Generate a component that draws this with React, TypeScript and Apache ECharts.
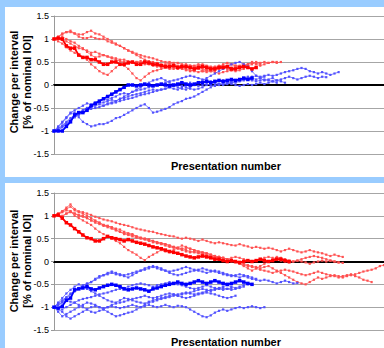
import React, { useEffect, useRef } from "react";
import * as echarts from "echarts";

// Y-axis ticks (both panels)
const yTicks = [-1.5, -1, -0.5, 0, 0.5, 1, 1.5];
const xTitle = "Presentation number";
const yTitle1 = "Change per interval";
const yTitle2 = "[% of nominal IOI]";

// ---------- Top panel ----------
const topRedBold = [1.0,1.02,1.0,0.85,0.8,0.8,0.65,0.6,0.6,0.55,0.55,0.5,0.45,0.45,0.5,0.5,0.45,0.45,0.48,0.5,0.45,0.45,0.5,0.48,0.45,0.45,0.42,0.4,0.4,0.42,0.38,0.4,0.4,0.38,0.35,0.38,0.4,0.38,0.35,0.35,0.38,0.38,0.4,0.35,0.35,0.38,0.4,0.38,0.35,0.38];
const topRed2 = [1.0,1.05,1.1,1.15,1.15,1.12,1.1,1.1,1.15,1.18,1.12,1.1,1.05,1.0,0.95,0.9,0.85,0.8,0.75,0.72,0.68,0.65,0.62,0.6,0.58,0.55,0.52,0.5,0.5,0.48,0.48,0.45,0.45,0.42,0.42,0.45,0.42,0.4,0.38,0.4,0.42,0.4,0.42,0.45,0.42,0.4,0.42,0.45,0.48,0.45,0.42,0.45,0.48,0.5,0.48,0.5];
const topRed3 = [1.0,1.05,1.12,1.15,1.18,1.12,1.05,1.02,1.02,1.05,1.02,1.0,1.0,0.95,0.92,0.88,0.85,0.8,0.75,0.7,0.65,0.6,0.55,0.52,0.5,0.48,0.45,0.45,0.48,0.45,0.42,0.42,0.4,0.38,0.4,0.42,0.45,0.42,0.4,0.38,0.4,0.45,0.48,0.45,0.42,0.4,0.42,0.45,0.5,0.48,0.45];
const topRed4 = [1.0,0.95,0.9,0.82,0.75,0.7,0.65,0.6,0.55,0.45,0.38,0.3,0.25,0.22,0.3,0.38,0.45,0.42,0.35,0.25,0.15,0.1,0.18,0.25,0.3,0.32,0.35,0.38,0.4,0.38,0.35,0.38,0.4,0.42,0.4,0.38,0.35,0.32,0.35,0.38,0.4,0.42,0.4,0.38,0.4,0.42,0.45];
const topRed5 = [1.0,1.0,0.98,0.95,0.9,0.85,0.8,0.78,0.75,0.7,0.72,0.68,0.65,0.62,0.6,0.58,0.55,0.55,0.52,0.5,0.5,0.48,0.45,0.45,0.42,0.4,0.42,0.38,0.35,0.35,0.38,0.35,0.32,0.3,0.32,0.35,0.3,0.28,0.3,0.32,0.35,0.38,0.35,0.32,0.3,0.32,0.35];
const topRed6 = [1.0,1.02,1.05,1.0,0.95,0.92,0.85,0.8,0.72,0.65,0.6,0.62,0.65,0.62,0.58,0.55,0.52,0.5,0.5,0.48,0.5,0.52,0.5,0.48,0.45,0.42,0.4,0.42,0.45,0.42,0.4,0.38,0.35,0.32,0.3,0.28,0.3,0.32,0.3,0.28,0.25,0.28,0.3,0.32,0.35,0.38,0.4,0.42,0.45,0.5,0.48,0.5,0.48,0.5,0.5];

const topBlueBold = [-1.0,-1.0,-1.0,-0.9,-0.8,-0.65,-0.6,-0.6,-0.55,-0.45,-0.4,-0.35,-0.3,-0.25,-0.2,-0.15,-0.1,-0.05,0.0,0.0,-0.02,0.0,0.02,0.0,-0.02,0.0,0.02,0.0,-0.02,0.0,0.02,0.05,0.02,0.0,0.02,0.05,0.05,0.08,0.05,0.08,0.1,0.08,0.1,0.12,0.1,0.12,0.15,0.12,0.15];
const topBlue2 = [-1.0,-0.92,-0.82,-0.72,-0.62,-0.6,-0.7,-0.8,-0.85,-0.9,-0.88,-0.85,-0.85,-0.82,-0.78,-0.72,-0.7,-0.65,-0.6,-0.55,-0.5,-0.45,-0.42,-0.5,-0.6,-0.58,-0.55,-0.52,-0.48,-0.42,-0.38,-0.35,-0.3,-0.28,-0.25,-0.2,-0.15,-0.1,-0.05,0.0,0.02,0.05,0.05,0.08,0.1,0.12,0.15,0.18,0.15,0.12,0.15,0.18];
const topBlue3 = [-1.0,-0.9,-0.8,-0.7,-0.6,-0.55,-0.5,-0.45,-0.4,-0.42,-0.38,-0.35,-0.3,-0.32,-0.28,-0.25,-0.2,-0.18,-0.2,-0.15,-0.12,-0.1,-0.08,-0.05,-0.02,0.0,0.02,0.05,0.08,0.1,0.12,0.15,0.18,0.2,0.18,0.15,0.12,0.1,0.08,0.05,0.02,0.0,0.02,0.05,0.08,0.1,0.12,0.15,0.18,0.2,0.18,0.2,0.22,0.2,0.22,0.25,0.28,0.3,0.32,0.35,0.37,0.35,0.3,0.28,0.25,0.28,0.25,0.22,0.25,0.28];
const topBlue4 = [-1.0,-0.95,-0.88,-0.8,-0.72,-0.65,-0.6,-0.55,-0.5,-0.48,-0.45,-0.42,-0.45,-0.4,-0.38,-0.35,-0.3,-0.25,-0.2,-0.15,-0.1,-0.05,0.0,0.05,0.1,0.12,0.15,0.1,0.05,0.0,-0.05,-0.08,-0.1,-0.05,0.0,0.05,0.1,0.15,0.2,0.25,0.3,0.35,0.4,0.45,0.48,0.5,0.45,0.4,0.3,0.2,0.15,0.1,0.12,0.15,0.1,0.08,0.05];
const topBlue5 = [-1.0,-0.95,-0.9,-0.82,-0.75,-0.7,-0.65,-0.6,-0.55,-0.52,-0.5,-0.48,-0.45,-0.42,-0.4,-0.38,-0.35,-0.32,-0.3,-0.28,-0.25,-0.22,-0.2,-0.18,-0.15,-0.12,-0.1,-0.08,-0.05,-0.02,0.0,-0.02,-0.05,-0.08,-0.1,-0.08,-0.05,0.0,0.02,0.05,0.08,0.1,0.08,0.05,0.05,0.08,0.1,0.12,0.1,0.08,0.1,0.12,0.1,0.08,0.1,0.12,0.15,0.18,0.15,0.12,0.15,0.18,0.2,0.18,0.15,0.18,0.17];
const topBlue6 = [-1.0,-0.98,-0.92,-0.85,-0.78,-0.7,-0.62,-0.55,-0.5,-0.45,-0.42,-0.4,-0.38,-0.35,-0.32,-0.35,-0.3,-0.28,-0.25,-0.22,-0.2,-0.18,-0.15,-0.12,-0.1,-0.12,-0.1,-0.08,-0.05,-0.08,-0.1,-0.05,0.0,0.05,0.0,-0.02,0.0,0.02,0.0,-0.02,0.0,0.02,0.05,0.02,0.0,-0.02,0.0,0.02,0.0,0.02,0.05,0.02,0.05,0.08,0.05];

// ---------- Bottom panel ----------
const botRedBold = [1.0,1.02,0.95,0.85,0.8,0.72,0.65,0.58,0.52,0.5,0.45,0.45,0.5,0.55,0.52,0.5,0.48,0.45,0.48,0.45,0.42,0.4,0.38,0.35,0.32,0.3,0.28,0.25,0.22,0.2,0.18,0.15,0.12,0.1,0.08,0.1,0.12,0.1,0.08,0.05,0.05,0.02,0.0,0.02,0.0,-0.02,0.0,0.02,0.0,0.02,0.05,0.02,0.0,0.02,0.05,0.05,0.02,0.0];
const botRed2 = [1.0,1.05,1.1,1.18,1.25,1.15,1.1,1.08,1.05,1.02,0.98,0.95,0.92,0.9,0.88,0.85,0.82,0.8,0.78,0.75,0.72,0.7,0.68,0.66,0.65,0.62,0.6,0.58,0.56,0.55,0.52,0.5,0.52,0.5,0.48,0.45,0.48,0.45,0.42,0.4,0.42,0.4,0.38,0.36,0.35,0.38,0.35,0.33,0.3,0.32,0.3,0.28,0.3,0.28,0.25,0.22,0.25,0.28,0.25,0.22,0.2,0.22,0.25,0.22,0.2,0.18,0.15,0.12,0.15,0.12,0.1];
const botRed3 = [1.0,1.05,1.1,1.15,1.2,1.12,1.08,1.05,1.0,0.95,0.9,0.85,0.8,0.78,0.75,0.7,0.65,0.62,0.6,0.58,0.55,0.52,0.5,0.48,0.45,0.42,0.4,0.38,0.35,0.32,0.3,0.28,0.3,0.28,0.25,0.22,0.2,0.18,0.15,0.12,0.1,0.08,0.05,0.02,0.0,-0.02,-0.05,-0.08,-0.1,-0.12,-0.15,-0.12,-0.1,-0.15,-0.2,-0.25,-0.3,-0.35,-0.4,-0.45,-0.48,-0.5,-0.45,-0.4,-0.35,-0.38,-0.35,-0.32,-0.3,-0.32,-0.35,-0.32,-0.3,-0.28,-0.25,-0.22,-0.2,-0.18,-0.15,-0.1,-0.08];
const botRed4 = [1.0,1.02,1.08,1.12,1.1,1.05,1.02,1.0,0.95,0.9,0.85,0.82,0.78,0.75,0.72,0.68,0.65,0.6,0.58,0.55,0.52,0.5,0.48,0.45,0.42,0.4,0.38,0.35,0.32,0.3,0.28,0.25,0.22,0.2,0.22,0.2,0.18,0.15,0.12,0.1,0.08,0.05,0.02,0.0,-0.02,-0.05,-0.08,-0.1,-0.12,-0.15,-0.18,-0.2,-0.22,-0.25,-0.22,-0.2,-0.18,-0.2,-0.22,-0.25,-0.28,-0.3,-0.28,-0.25,-0.22,-0.25,-0.28,-0.3,-0.32,-0.35,-0.32,-0.3,-0.28,-0.32,-0.35,-0.4,-0.42,-0.45];
const botRed5 = [1.0,1.0,0.98,1.05,1.1,1.0,0.95,0.9,0.85,0.8,0.72,0.65,0.6,0.55,0.5,0.45,0.4,0.32,0.25,0.2,0.15,0.08,0.03,0.1,0.15,0.2,0.25,0.22,0.2,0.25,0.3,0.35,0.32,0.28,0.25,0.22,0.2,0.18,0.15,0.12,0.1,0.08,0.05,0.02,0.0,-0.05,-0.1,-0.15,-0.2,-0.15,-0.1,-0.05,0.0,0.05,0.1,0.08,0.05,0.02,0.0,0.02,0.05,0.08,0.1,0.12,0.1,0.08,0.05,0.02,0.0,-0.02,-0.03];
const botRed6 = [1.0,1.02,1.0,1.05,1.08,1.05,1.0,0.98,0.95,0.9,0.88,0.85,0.8,0.78,0.75,0.72,0.7,0.65,0.62,0.6,0.55,0.52,0.5,0.48,0.45,0.42,0.4,0.38,0.35,0.32,0.3,0.28,0.25,0.22,0.2,0.18,0.15,0.12,0.1,0.08,0.1,0.08,0.05,0.08,0.1,0.08,0.05,0.02,0.0,0.02,0.05,0.08,0.1,0.08,0.05,0.02,0.0,-0.02,0.0,0.02,0.0,-0.02,-0.05,-0.02,0.0,0.02,0.0,0.02,0.0,-0.02];

const botBlueBold = [-1.0,-1.02,-0.98,-0.85,-0.8,-0.62,-0.6,-0.58,-0.55,-0.6,-0.62,-0.58,-0.55,-0.52,-0.5,-0.52,-0.55,-0.6,-0.62,-0.6,-0.58,-0.6,-0.62,-0.65,-0.6,-0.58,-0.55,-0.52,-0.5,-0.48,-0.45,-0.48,-0.5,-0.48,-0.45,-0.42,-0.45,-0.48,-0.45,-0.42,-0.45,-0.48,-0.5,-0.48,-0.45,-0.42,-0.45,-0.48,-0.5];
const botBlue2 = [-1.0,-0.95,-0.88,-0.8,-0.72,-0.65,-0.58,-0.52,-0.48,-0.45,-0.38,-0.32,-0.3,-0.25,-0.22,-0.25,-0.28,-0.3,-0.28,-0.25,-0.22,-0.2,-0.18,-0.15,-0.12,-0.15,-0.18,-0.2,-0.22,-0.2,-0.18,-0.15,-0.12,-0.15,-0.18,-0.2,-0.22,-0.25,-0.22,-0.2,-0.22,-0.25,-0.28,-0.3,-0.32,-0.35,-0.32,-0.35,-0.38,-0.4,-0.42,-0.4,-0.42,-0.45,-0.48,-0.45,-0.42,-0.45,-0.48,-0.47];
const botBlue3 = [-1.0,-0.92,-0.85,-0.78,-0.7,-0.65,-0.6,-0.55,-0.5,-0.45,-0.4,-0.35,-0.3,-0.28,-0.25,-0.28,-0.3,-0.32,-0.35,-0.3,-0.25,-0.2,-0.15,-0.12,-0.1,-0.12,-0.15,-0.2,-0.25,-0.28,-0.3,-0.28,-0.25,-0.22,-0.2,-0.18,-0.15,-0.18,-0.2,-0.22,-0.25,-0.28,-0.3,-0.32,-0.3,-0.28,-0.3,-0.32,-0.35,-0.38];
const botBlue4 = [-1.0,-1.05,-1.1,-1.2,-1.25,-1.2,-1.15,-1.1,-1.05,-1.0,-0.98,-1.0,-1.02,-1.0,-0.98,-1.0,-1.02,-1.0,-0.98,-0.95,-0.98,-1.0,-0.98,-0.95,-0.98,-1.0,-0.98,-0.95,-0.98,-1.0,-0.97,-0.98,-1.0,-1.05,-1.1,-1.15,-1.2,-1.22,-1.18,-1.12,-1.08,-1.05,-1.08,-1.05,-1.02,-1.0,-1.02,-1.0,-0.98,-1.0,-1.02,-1.0];
const botBlue5 = [-1.0,-1.1,-1.2,-1.15,-1.1,-1.05,-1.0,-0.95,-0.9,-0.92,-0.95,-1.0,-1.05,-1.1,-1.15,-1.2,-1.18,-1.15,-1.12,-1.1,-1.05,-1.0,-0.95,-0.9,-0.88,-0.85,-0.82,-0.8,-0.78,-0.75,-0.72,-0.7,-0.68,-0.7,-0.72,-0.7,-0.68,-0.65,-0.62,-0.6,-0.58,-0.55,-0.52,-0.55,-0.58,-0.55,-0.52,-0.5];
const botBlue6 = [-1.0,-0.95,-0.9,-0.85,-0.88,-0.9,-0.95,-1.0,-1.05,-1.1,-1.12,-1.08,-1.05,-1.0,-0.95,-0.92,-0.9,-0.88,-0.85,-0.82,-0.8,-0.78,-0.75,-0.78,-0.8,-0.78,-0.75,-0.72,-0.7,-0.72,-0.75,-0.72,-0.7,-0.68,-0.65,-0.62,-0.6,-0.62,-0.65,-0.62,-0.6,-0.58,-0.6,-0.62,-0.6,-0.58,-0.55];
const botBlue7 = [-1.0,-0.9,-0.8,-0.7,-0.62,-0.55,-0.5,-0.55,-0.6,-0.65,-0.7,-0.75,-0.8,-0.85,-0.88,-0.9,-0.85,-0.8,-0.82,-0.85,-0.88,-0.9,-0.92,-0.88,-0.85,-0.82,-0.8,-0.78,-0.75,-0.72,-0.75,-0.78,-0.8,-0.78,-0.75,-0.72,-0.7,-0.68,-0.7,-0.72,-0.75,-0.78,-0.8,-0.78,-0.75];
const botBlue8 = [-1.0,-1.02,-1.05,-1.0,-0.95,-0.9,-0.85,-0.82,-0.8,-0.78,-0.75,-0.72,-0.7,-0.68,-0.65,-0.62,-0.6,-0.58,-0.55,-0.52,-0.5,-0.48,-0.5,-0.52,-0.55,-0.52,-0.5,-0.48,-0.45,-0.48,-0.5,-0.52,-0.55,-0.58,-0.6,-0.58,-0.55,-0.52,-0.55,-0.58,-0.6,-0.62,-0.6,-0.58];

const topRedThin = [topRed2, topRed3, topRed4, topRed5, topRed6];
const topBlueThin = [topBlue2, topBlue3, topBlue4, topBlue5, topBlue6];
const botRedThin = [botRed2, botRed3, botRed4, botRed5, botRed6];
const botBlueThin = [botBlue2, botBlue3, botBlue4, botBlue5, botBlue6, botBlue7, botBlue8];

const RED = "#ff0000";
const RED_THIN = "#ff4d4d";
const BLUE = "#0000ff";
const BLUE_THIN = "#4d4dff";

function thin(arr: number[], color: string, gi: number) {
  return {
    type: "line",
    xAxisIndex: gi,
    yAxisIndex: gi,
    data: arr.map((v, i) => [i, v]),
    symbol: "rect",
    symbolSize: 2.2,
    color,
    lineStyle: { color, width: 0.8, opacity: 0.9 },
    itemStyle: { color, opacity: 0.95 },
    z: 3,
  };
}
function bold(arr: number[], color: string, gi: number) {
  return {
    type: "line",
    xAxisIndex: gi,
    yAxisIndex: gi,
    data: arr.map((v, i) => [i, v]),
    symbol: "rect",
    symbolSize: 3.5,
    color,
    lineStyle: { color, width: 1.8 },
    itemStyle: { color },
    z: 5,
  };
}

export default function App() {
  const ref = useRef<HTMLDivElement>(null);
  useEffect(() => {
    if (!ref.current) return;
    const chart = echarts.init(ref.current, null, { renderer: "svg" });
    const font = "'Liberation Sans', Arial, sans-serif";
    const yAxis = (gi: number) => ({
      type: "value",
      gridIndex: gi,
      min: yTicks[0],
      max: yTicks[yTicks.length - 1],
      interval: 0.5,
      axisLine: { show: true, lineStyle: { color: "#999999", width: 1 } },
      axisTick: { show: true, length: 3, lineStyle: { color: "#999999" } },
      axisLabel: { color: "#000", fontSize: 9, fontFamily: font, margin: 5 },
      splitLine: { show: true, lineStyle: { color: "#a6a6a6", width: 1 } },
    });
    const xAxis = (gi: number) => ({
      type: "value",
      gridIndex: gi,
      min: 0,
      max: 80,
      axisLine: { show: true, onZero: true, lineStyle: { color: "#000", width: 2 } },
      axisTick: { show: false },
      axisLabel: { show: false },
      splitLine: { show: false },
    });
    const titleStyle = { font: `bold 11px ${font}`, fill: "#000", textAlign: "center", textVerticalAlign: "middle" };
    chart.setOption({
      animation: false,
      backgroundColor: "transparent",
      grid: [
        { left: 54, top: 16, width: 330, height: 138 },
        { left: 54, top: 193, width: 330, height: 137 },
      ],
      xAxis: [xAxis(0), xAxis(1)],
      yAxis: [yAxis(0), yAxis(1)],
      graphic: [
        { type: "text", x: 226, y: 166, style: { ...titleStyle, text: xTitle } },
        { type: "text", x: 226, y: 342, style: { ...titleStyle, text: xTitle } },
        { type: "text", x: 14, y: 82, rotation: Math.PI / 2, style: { ...titleStyle, text: yTitle1 } },
        { type: "text", x: 27, y: 82, rotation: Math.PI / 2, style: { ...titleStyle, text: yTitle2 } },
        { type: "text", x: 14, y: 261, rotation: Math.PI / 2, style: { ...titleStyle, text: yTitle1 } },
        { type: "text", x: 27, y: 261, rotation: Math.PI / 2, style: { ...titleStyle, text: yTitle2 } },
      ],
      series: [
        ...topRedThin.map((a) => thin(a, RED_THIN, 0)),
        ...topBlueThin.map((a) => thin(a, BLUE_THIN, 0)),
        bold(topRedBold, RED, 0),
        bold(topBlueBold, BLUE, 0),
        ...botRedThin.map((a) => thin(a, RED_THIN, 1)),
        ...botBlueThin.map((a) => thin(a, BLUE_THIN, 1)),
        bold(botRedBold, RED, 1),
        bold(botBlueBold, BLUE, 1),
      ],
    });
    return () => chart.dispose();
  }, []);
  return (
    <div style={{ position: "fixed", left: 0, top: 0, width: 384, height: 348, background: "#99ccff", overflow: "hidden" }}>
      <div style={{ position: "absolute", left: 5, top: 7, width: 379, height: 170, background: "#fff" }} />
      <div style={{ position: "absolute", left: 5, top: 183, width: 379, height: 165, background: "#fff" }} />
      <div ref={ref} style={{ position: "absolute", left: 0, top: 0, width: 384, height: 348 }} />
    </div>
  );
}
